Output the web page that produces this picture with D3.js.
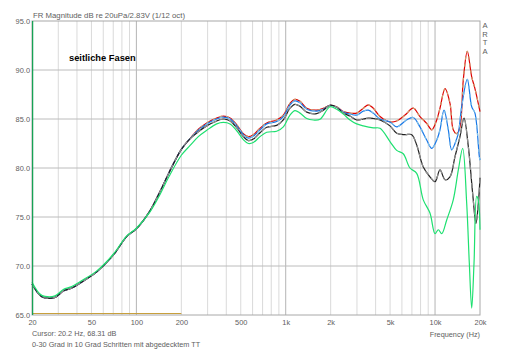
<!DOCTYPE html>
<html>
<head>
<meta charset="utf-8">
<script src="https://cdn.jsdelivr.net/npm/d3@7"></script>
<style>
  body { margin: 0; background: #fff; }
  svg { font-family: "Liberation Sans", Arial, sans-serif; }
  .axis text { fill: #606060; font-size: 7.4px; }
</style>
</head>
<body>
<div id="chart"></div>
<script>
// axis ticks
var yTicks = [65, 70, 75, 80, 85, 90, 95];
var xLabelValues = [20, 50, 100, 200, 500, 1000, 2000, 5000, 10000, 20000];
var xLabelTexts = ['20', '50', '100', '200', '500', '1k', '2k', '5k', '10k', '20k'];
var xGrid = [30, 40, 50, 60, 70, 80, 90, 100, 200, 300, 400, 500, 600, 700, 800, 900,
             1000, 2000, 3000, 4000, 5000, 6000, 7000, 8000, 9000, 10000];
var xMajor = [100, 1000, 10000];

// measured curves [Hz, dB]
var lowEnd = [[20, 68.16], [22.6, 67.0], [24.4, 66.75], [28.5, 66.8], [32.4, 67.45], [36.9, 67.75],
              [41.9, 68.25], [54.3, 69.4], [70, 71.1], [86, 73.0], [100, 73.8], [123, 75.6],
              [144, 77.6], [165, 79.5], [200, 81.9], [229, 83.0]];

var red = lowEnd.concat([[260, 83.95], [296, 84.6], [345, 85.1], [382, 85.3], [424, 85.1], [470, 84.4], [520, 83.5],
  [562, 83.2], [607, 83.4], [673, 84.05], [746, 84.6], [870, 84.9], [964, 85.4], [1068, 86.6],
  [1154, 87.0], [1247, 86.8], [1383, 86.1], [1612, 85.9], [1786, 86.1], [1980, 86.4], [2195, 86.25],
  [2433, 85.75], [2695, 85.6], [2986, 85.6], [3310, 86.1], [3575, 86.45], [3862, 86.1], [4280, 85.25],
  [4992, 84.7], [5534, 84.8], [6292, 85.4], [7140, 86.1], [7925, 85.25], [8790, 84.55], [9506, 83.9],
  [10260, 84.9], [10790, 86.1], [11670, 88.1], [12590, 86.6], [13240, 83.9], [13960, 83.5],
  [14690, 84.2], [15460, 89.0], [16440, 91.9], [17600, 89.3], [18500, 88.1], [20000, 85.75]]);

var blue = lowEnd.concat([[260, 83.85], [296, 84.5], [345, 85.0], [382, 85.2], [424, 85.0], [470, 84.3], [520, 83.4],
  [562, 83.05], [607, 83.25], [673, 83.9], [746, 84.5], [870, 84.75], [964, 85.25], [1068, 86.45],
  [1154, 86.85], [1247, 86.65], [1383, 86.0], [1612, 85.8], [1786, 86.0], [1980, 86.4], [2195, 86.2],
  [2433, 85.7], [2695, 85.5], [2986, 85.4], [3310, 85.8], [3575, 85.9], [3862, 85.6], [4280, 85.0],
  [4992, 84.7], [5534, 84.2], [6456, 84.9], [7140, 85.15], [7925, 84.2], [8790, 82.85], [9506, 82.0],
  [10260, 82.85], [10790, 83.9], [11480, 85.9], [12270, 83.9], [12920, 81.85], [13600, 82.5],
  [14320, 83.55], [15070, 86.25], [16440, 89.05], [17600, 86.25], [18500, 85.6], [19780, 81.2],
  [20000, 80.8]]);

var black = lowEnd.concat([[260, 83.7], [296, 84.3], [345, 84.8], [382, 85.0], [424, 84.8], [470, 84.1], [520, 83.2],
  [562, 82.8], [607, 82.95], [673, 83.6], [746, 84.15], [870, 84.35], [964, 84.9], [1068, 86.1],
  [1154, 86.5], [1247, 86.3], [1383, 85.7], [1612, 85.55], [1786, 85.9], [1980, 86.4], [2195, 86.2],
  [2433, 85.6], [2695, 85.3], [2986, 84.9], [3310, 85.0], [3575, 85.1], [3862, 85.05], [4280, 84.9],
  [4992, 84.3], [5534, 83.55], [6292, 83.4], [6980, 83.4], [7534, 82.35], [8340, 80.1], [9247, 79.1],
  [9996, 78.6], [10790, 79.8], [11670, 78.8], [12590, 79.1], [13600, 81.15], [14690, 83.2],
  [15630, 85.1], [16700, 82.2], [17860, 77.4], [18800, 74.35], [19490, 76.4], [20000, 79.0]]);

var green = [[20, 68.35], [22.6, 67.15], [24.4, 66.9], [28.5, 66.95], [32.4, 67.6], [36.9, 67.9],
  [41.9, 68.4], [54.3, 69.5], [70, 71.2], [86, 73.05], [100, 73.85], [123, 75.5], [144, 77.3],
  [165, 79.1], [200, 81.3], [229, 82.3], [260, 83.2], [296, 83.85], [345, 84.5], [382, 84.65], [424, 84.5], [470, 83.8],
  [520, 82.9], [562, 82.5], [607, 82.6], [673, 83.2], [746, 83.65], [870, 83.75], [964, 84.2],
  [1068, 85.4], [1154, 85.85], [1247, 85.6], [1383, 85.05], [1531, 84.9], [1697, 84.97], [1980, 86.25],
  [2195, 86.0], [2433, 85.5], [2695, 84.9], [2986, 84.5], [3310, 84.3], [3862, 84.1], [4280, 84.05],
  [4992, 82.7], [5534, 81.8], [6124, 81.45], [6792, 80.0], [7534, 79.45], [8340, 76.75], [9247, 75.4],
  [9996, 73.3], [10520, 73.7], [11090, 73.3], [11970, 74.7], [13240, 76.75], [14320, 79.8],
  [15310, 82.0], [16290, 76.4], [16960, 70.3], [17600, 65.7], [18240, 70.3], [19000, 77.1],
  [19490, 76.7], [20000, 73.7]];

var cursorFreq = 20.2;
var markerRange = [20, 200];

var svg = d3.select('#chart').append('svg')
    .attr('width', 512)
    .attr('height', 351);

var x = d3.scaleLog().domain([20, 20000]).range([32, 480]);
var y = d3.scaleLinear().domain([65, 95]).range([315, 21]);

// grid
var grid = svg.append('g').attr('class', 'grid');
grid.selectAll('.vgrid').data(xGrid).enter().append('line')
    .attr('x1', d => x(d)).attr('x2', d => x(d))
    .attr('y1', y(95)).attr('y2', y(65))
    .attr('stroke', d => xMajor.indexOf(d) >= 0 ? '#b4b4b4' : '#dadada')
    .attr('stroke-width', 1);
grid.selectAll('.hgrid').data(yTicks.slice(1, -1)).enter().append('line')
    .attr('x1', x(20)).attr('x2', x(20000))
    .attr('y1', d => y(d)).attr('y2', d => y(d))
    .attr('stroke', '#bcbcbc');

// frame
svg.append('rect')
    .attr('x', x(20)).attr('y', y(95))
    .attr('width', x(20000) - x(20)).attr('height', y(65) - y(95))
    .attr('fill', 'none').attr('stroke', '#a8a8a8');

// axes
var xAxis = d3.axisBottom(x).tickValues(xLabelValues)
    .tickFormat((d, i) => xLabelTexts[i]).tickSize(0).tickPadding(5);
svg.append('g').attr('class', 'axis')
    .attr('transform', `translate(0, ${y(65)})`)
    .call(xAxis)
    .call(g => g.select('.domain').remove());

var yAxis = d3.axisLeft(y).tickValues(yTicks)
    .tickFormat(d3.format('.1f')).tickSize(0).tickPadding(2);
svg.append('g').attr('class', 'axis')
    .attr('transform', `translate(${x(20)}, 0)`)
    .call(yAxis)
    .call(g => g.select('.domain').remove());

// marker line at bottom
svg.append('line')
    .attr('x1', x(markerRange[0])).attr('x2', x(markerRange[1]))
    .attr('y1', y(65) - 1.5).attr('y2', y(65) - 1.5)
    .attr('stroke', '#c8a03c').attr('stroke-width', 1.2);

// curves
var line = d3.line()
    .x(d => x(d[0]))
    .y(d => y(d[1]))
    .curve(d3.curveCatmullRom.alpha(0.5));

var plot = svg.append('g');
plot.append('path').datum(red).attr('d', line)
    .attr('fill', 'none').attr('stroke', '#e00000').attr('stroke-width', 1.2);
plot.append('path').datum(red).attr('d', line)
    .attr('fill', 'none').attr('stroke', '#d0a070').attr('stroke-width', 1.2)
    .attr('stroke-dasharray', '3,4');
plot.append('path').datum(blue).attr('d', line)
    .attr('fill', 'none').attr('stroke', '#1878e8').attr('stroke-width', 1.2);
plot.append('path').datum(blue).attr('d', line)
    .attr('fill', 'none').attr('stroke', '#80c0e8').attr('stroke-width', 1.2)
    .attr('stroke-dasharray', '3,5');
plot.append('path').datum(black).attr('d', line)
    .attr('fill', 'none').attr('stroke', '#202020').attr('stroke-width', 1.2);
plot.append('path').datum(black).attr('d', line)
    .attr('fill', 'none').attr('stroke', '#909090').attr('stroke-width', 1.2)
    .attr('stroke-dasharray', '5,4');
plot.append('path').datum(green).attr('d', line)
    .attr('fill', 'none').attr('stroke', '#1ee070').attr('stroke-width', 1.2);

// cursor
svg.append('line')
    .attr('x1', x(cursorFreq)).attr('x2', x(cursorFreq))
    .attr('y1', y(95)).attr('y2', y(65))
    .attr('stroke', '#10a050').attr('stroke-width', 1.2);

// texts
svg.append('text').attr('x', 33).attr('y', 18)
    .attr('font-size', 7.6).attr('fill', '#606060')
    .attr('textLength', 152).attr('lengthAdjust', 'spacingAndGlyphs')
    .text('FR Magnitude dB re 20uPa/2.83V (1/12 oct)');
svg.append('text').attr('x', 69).attr('y', 61)
    .attr('font-size', 9.3).attr('font-weight', 'bold').attr('fill', '#000')
    .text('seitliche Fasen');
['A', 'R', 'T', 'A'].forEach((c, i) => {
    svg.append('text').attr('x', 485).attr('y', 28 + i * 8.5)
        .attr('font-size', 7.6).attr('fill', '#606060')
        .attr('text-anchor', 'middle').text(c);
});
svg.append('text').attr('x', 480).attr('y', 337)
    .attr('font-size', 7.3).attr('fill', '#606060').attr('text-anchor', 'end')
    .text('Frequency (Hz)');
svg.append('text').attr('x', 32).attr('y', 336)
    .attr('font-size', 7.3).attr('fill', '#606060')
    .text('Cursor: 20.2 Hz, 68.31 dB');
svg.append('text').attr('x', 32).attr('y', 347)
    .attr('font-size', 7.3).attr('fill', '#606060')
    .text('0-30 Grad in 10 Grad Schritten mit abgedecktem TT');
</script>
</body>
</html>
